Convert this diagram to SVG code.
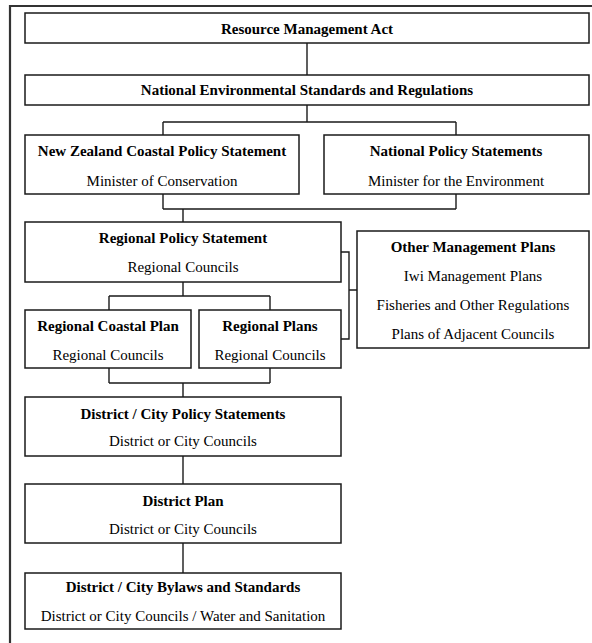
<svg xmlns="http://www.w3.org/2000/svg" width="592" height="643" viewBox="0 0 592 643">
<style>
.box{fill:#fff;stroke:#1a1a1a;stroke-width:1.5}
.t{font-family:"Liberation Serif","Times New Roman",serif;font-size:15px;fill:#000;text-anchor:middle}
.b{font-weight:bold}
.c{fill:none;stroke:#1a1a1a;stroke-width:1.4}
.frame{fill:none;stroke:#333;stroke-width:2.2}
</style>
<rect x="0" y="0" width="592" height="643" fill="#fff"/>
<path class="frame" d="M10,643 V6 H592"/>
<g id="connectors">
<path class="c" d="M307,43 V75"/>
<path class="c" d="M307,105 V122 M163,122 H456 M163,122 V135 M456,122 V135"/>
<path class="c" d="M163,194 V209 M456,194 V209 M163,209 H456 M183,209 V222"/>
<path class="c" d="M183,282 V296 M109,296 H270 M109,296 V310 M270,296 V310"/>
<path class="c" d="M109,368 V383 M270,368 V383 M109,383 H270 M183,383 V397"/>
<path class="c" d="M183,456 V484"/>
<path class="c" d="M183,543 V573"/>
<path class="c" d="M341,252 H349 V339 H341 M349,290 H357"/>
</g>
<g id="rma">
<rect class="box" x="25" y="13" width="564" height="30"/>
<text class="t b" x="307" y="34">Resource Management Act</text>
</g>
<g id="nes">
<rect class="box" x="25" y="75" width="564" height="30"/>
<text class="t b" x="307" y="95">National Environmental Standards and Regulations</text>
</g>
<g id="nzcps">
<rect class="box" x="25" y="135" width="274" height="59"/>
<text class="t b" x="162" y="156">New Zealand Coastal Policy Statement</text>
<text class="t" x="162" y="186">Minister of Conservation</text>
</g>
<g id="nps">
<rect class="box" x="324" y="135" width="265" height="59"/>
<text class="t b" x="456" y="156">National Policy Statements</text>
<text class="t" x="456" y="186">Minister for the Environment</text>
</g>
<g id="rps">
<rect class="box" x="25" y="222" width="316" height="60"/>
<text class="t b" x="183" y="243">Regional Policy Statement</text>
<text class="t" x="183" y="272">Regional Councils</text>
</g>
<g id="omp">
<rect class="box" x="357" y="231" width="232" height="117"/>
<text class="t b" x="473" y="252">Other Management Plans</text>
<text class="t" x="473" y="281">Iwi Management Plans</text>
<text class="t" x="473" y="310">Fisheries and Other Regulations</text>
<text class="t" x="473" y="339">Plans of Adjacent Councils</text>
</g>
<g id="rcp">
<rect class="box" x="25" y="310" width="166" height="58"/>
<text class="t b" x="108" y="331">Regional Coastal Plan</text>
<text class="t" x="108" y="360">Regional Councils</text>
</g>
<g id="rp">
<rect class="box" x="199" y="310" width="142" height="58"/>
<text class="t b" x="270" y="331">Regional Plans</text>
<text class="t" x="270" y="360">Regional Councils</text>
</g>
<g id="dcps">
<rect class="box" x="25" y="397" width="316" height="59"/>
<text class="t b" x="183" y="419">District / City Policy Statements</text>
<text class="t" x="183" y="446">District or City Councils</text>
</g>
<g id="dp">
<rect class="box" x="25" y="484" width="316" height="59"/>
<text class="t b" x="183" y="506">District Plan</text>
<text class="t" x="183" y="534">District or City Councils</text>
</g>
<g id="dcbs">
<rect class="box" x="25" y="573" width="316" height="56"/>
<text class="t b" x="183" y="592">District / City Bylaws and Standards</text>
<text class="t" x="183" y="621">District or City Councils / Water and Sanitation</text>
</g>
</svg>
